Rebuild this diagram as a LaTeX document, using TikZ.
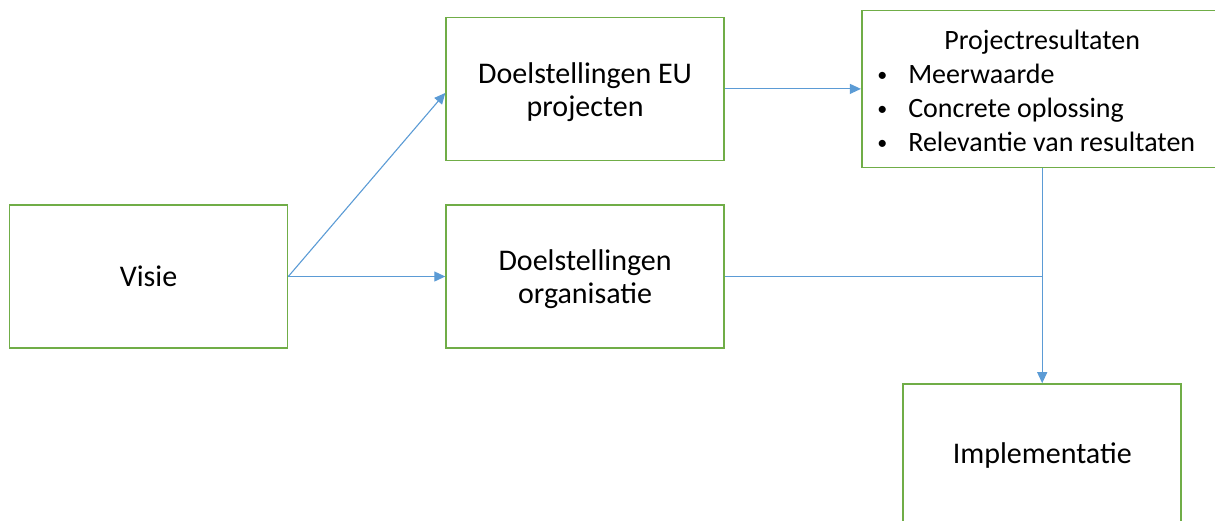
\documentclass[tikz,border=0pt]{standalone}
\usepackage{fontspec}
\setmainfont{Carlito}
\usepackage{xcolor}
\usetikzlibrary{positioning, arrows.meta}

\definecolor{boxgreen}{HTML}{70AD47}
\definecolor{linkblue}{HTML}{5B9BD5}

\newcommand{\listdot}{\makebox[15.5pt][l]{\raisebox{1.2pt}{\fontsize{10}{12}\selectfont\textbullet}}}
\newcommand{\lowered}[2]{\raisebox{-#1}[\height][\depth]{#2}}

\begin{document}
\begin{tikzpicture}[
    x=0.5pt, y=-0.5pt,
    node distance=78.5pt,
    box/.style={rectangle, draw=boxgreen, line width=0.8pt, minimum width=139pt, minimum height=71.5pt, align=center, inner sep=2pt, font=\fontsize{15}{16.5}\selectfont},
    link/.style={draw=linkblue, line width=0.55pt},
    arrow/.style={link, -{Triangle[length=5.5pt, width=5pt]}}
]
    \useasboundingbox (0,0) rectangle (1215,520);

    % Nodes
    \node[box] (visie) at (148.5,276.5) {Visie};
    \node[box, right=of visie] (org) {\lowered{1.5pt}{Doelstellingen}\\\lowered{1.5pt}{organisatie}};
    \node[box, above=21.5pt of org] (eu) {\lowered{1.5pt}{Doelstellingen EU}\\\lowered{1.5pt}{projecten}};
    \node[box, right=68pt of eu, minimum width=180.5pt, minimum height=78.5pt, font=\fontsize{14}{17}\selectfont] (result) {%
        \lowered{2.5pt}{\begin{tabular}{@{}c@{}}
            Projectresultaten\\
            \begin{tabular}{@{}l@{\hspace{6pt}}}
                \listdot Meerwaarde\\
                \listdot Concrete oplossing\\
                \listdot Relevantie van resultaten
            \end{tabular}
        \end{tabular}}};
    \node[box, below=107.5pt of result] (impl) {Implementatie};

    % Connectors
    \draw[arrow] (visie.east) -- ([yshift=-2pt]eu.west);
    \draw[arrow] (visie.east) -- (org.west);
    \draw[arrow] (eu) -- (result);
    \draw[arrow] (result) -- (impl);
    \draw[link] (org.east) -- (org.east -| result.south);

\end{tikzpicture}
\end{document}
